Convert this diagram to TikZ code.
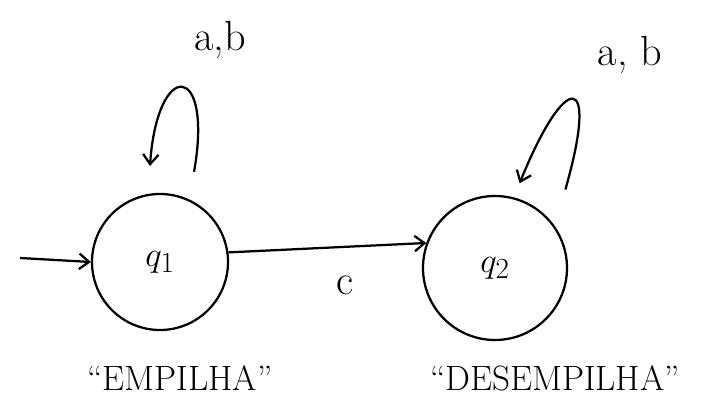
\documentclass[tikz,border=0pt]{standalone}
\usepackage{tikz}
\usetikzlibrary{arrows.meta}

\tikzset{
  state/.style={draw=black, circle, line width=1.6pt, inner sep=0pt},
  trans/.style={black, line width=1.6pt, -{Straight Barb[length=7pt,width=11pt]}},
  lbl/.style={font=\fontsize{30}{36}\selectfont},
  statename/.style={font=\fontsize{25}{30}\selectfont}
}

\begin{document}
\begin{tikzpicture}
    \useasboundingbox (0,0) rectangle (17.55,10.475);

    %% states
    \node[state, minimum size=3.4cm] (q1) at (4.0,3.925)   {\fontsize{28}{32}\selectfont $q_1$};
    \node[state, minimum size=3.6cm] (q2) at (12.375,3.775) {\fontsize{28}{32}\selectfont $q_2$};

    %% start
    \coordinate (start) at (0.5,4.025);
    \draw[trans] (start) -- (q1.west);

    %% q1 -> q2
    \draw[trans] (q1.8) -- (q2.160);
    \node[lbl] (c) at (8.625,3.35) {c};

    %% loops
    \draw[trans, shorten <=0.7cm, shorten >=0.7cm] (q1.65) .. controls +(80:3.5) and +(86:3.4) .. (q1.100);
    \node[lbl] (ab1) at (5.5,9.475) {a,b};

    \draw[trans, shorten <=0.95cm, shorten >=0.38cm] (q2.35) .. controls +(74:4.1) and +(68:3.4) .. (q2.75);
    \node[lbl] (ab2) at (15.75,9.1) {a, b};

    %% names
    \node[statename] (n1) at (4.5,1.025)    {``EMPILHA''};
    \node[statename] (n2) at (13.875,1.025) {``DESEMPILHA''};
\end{tikzpicture}
\end{document}
